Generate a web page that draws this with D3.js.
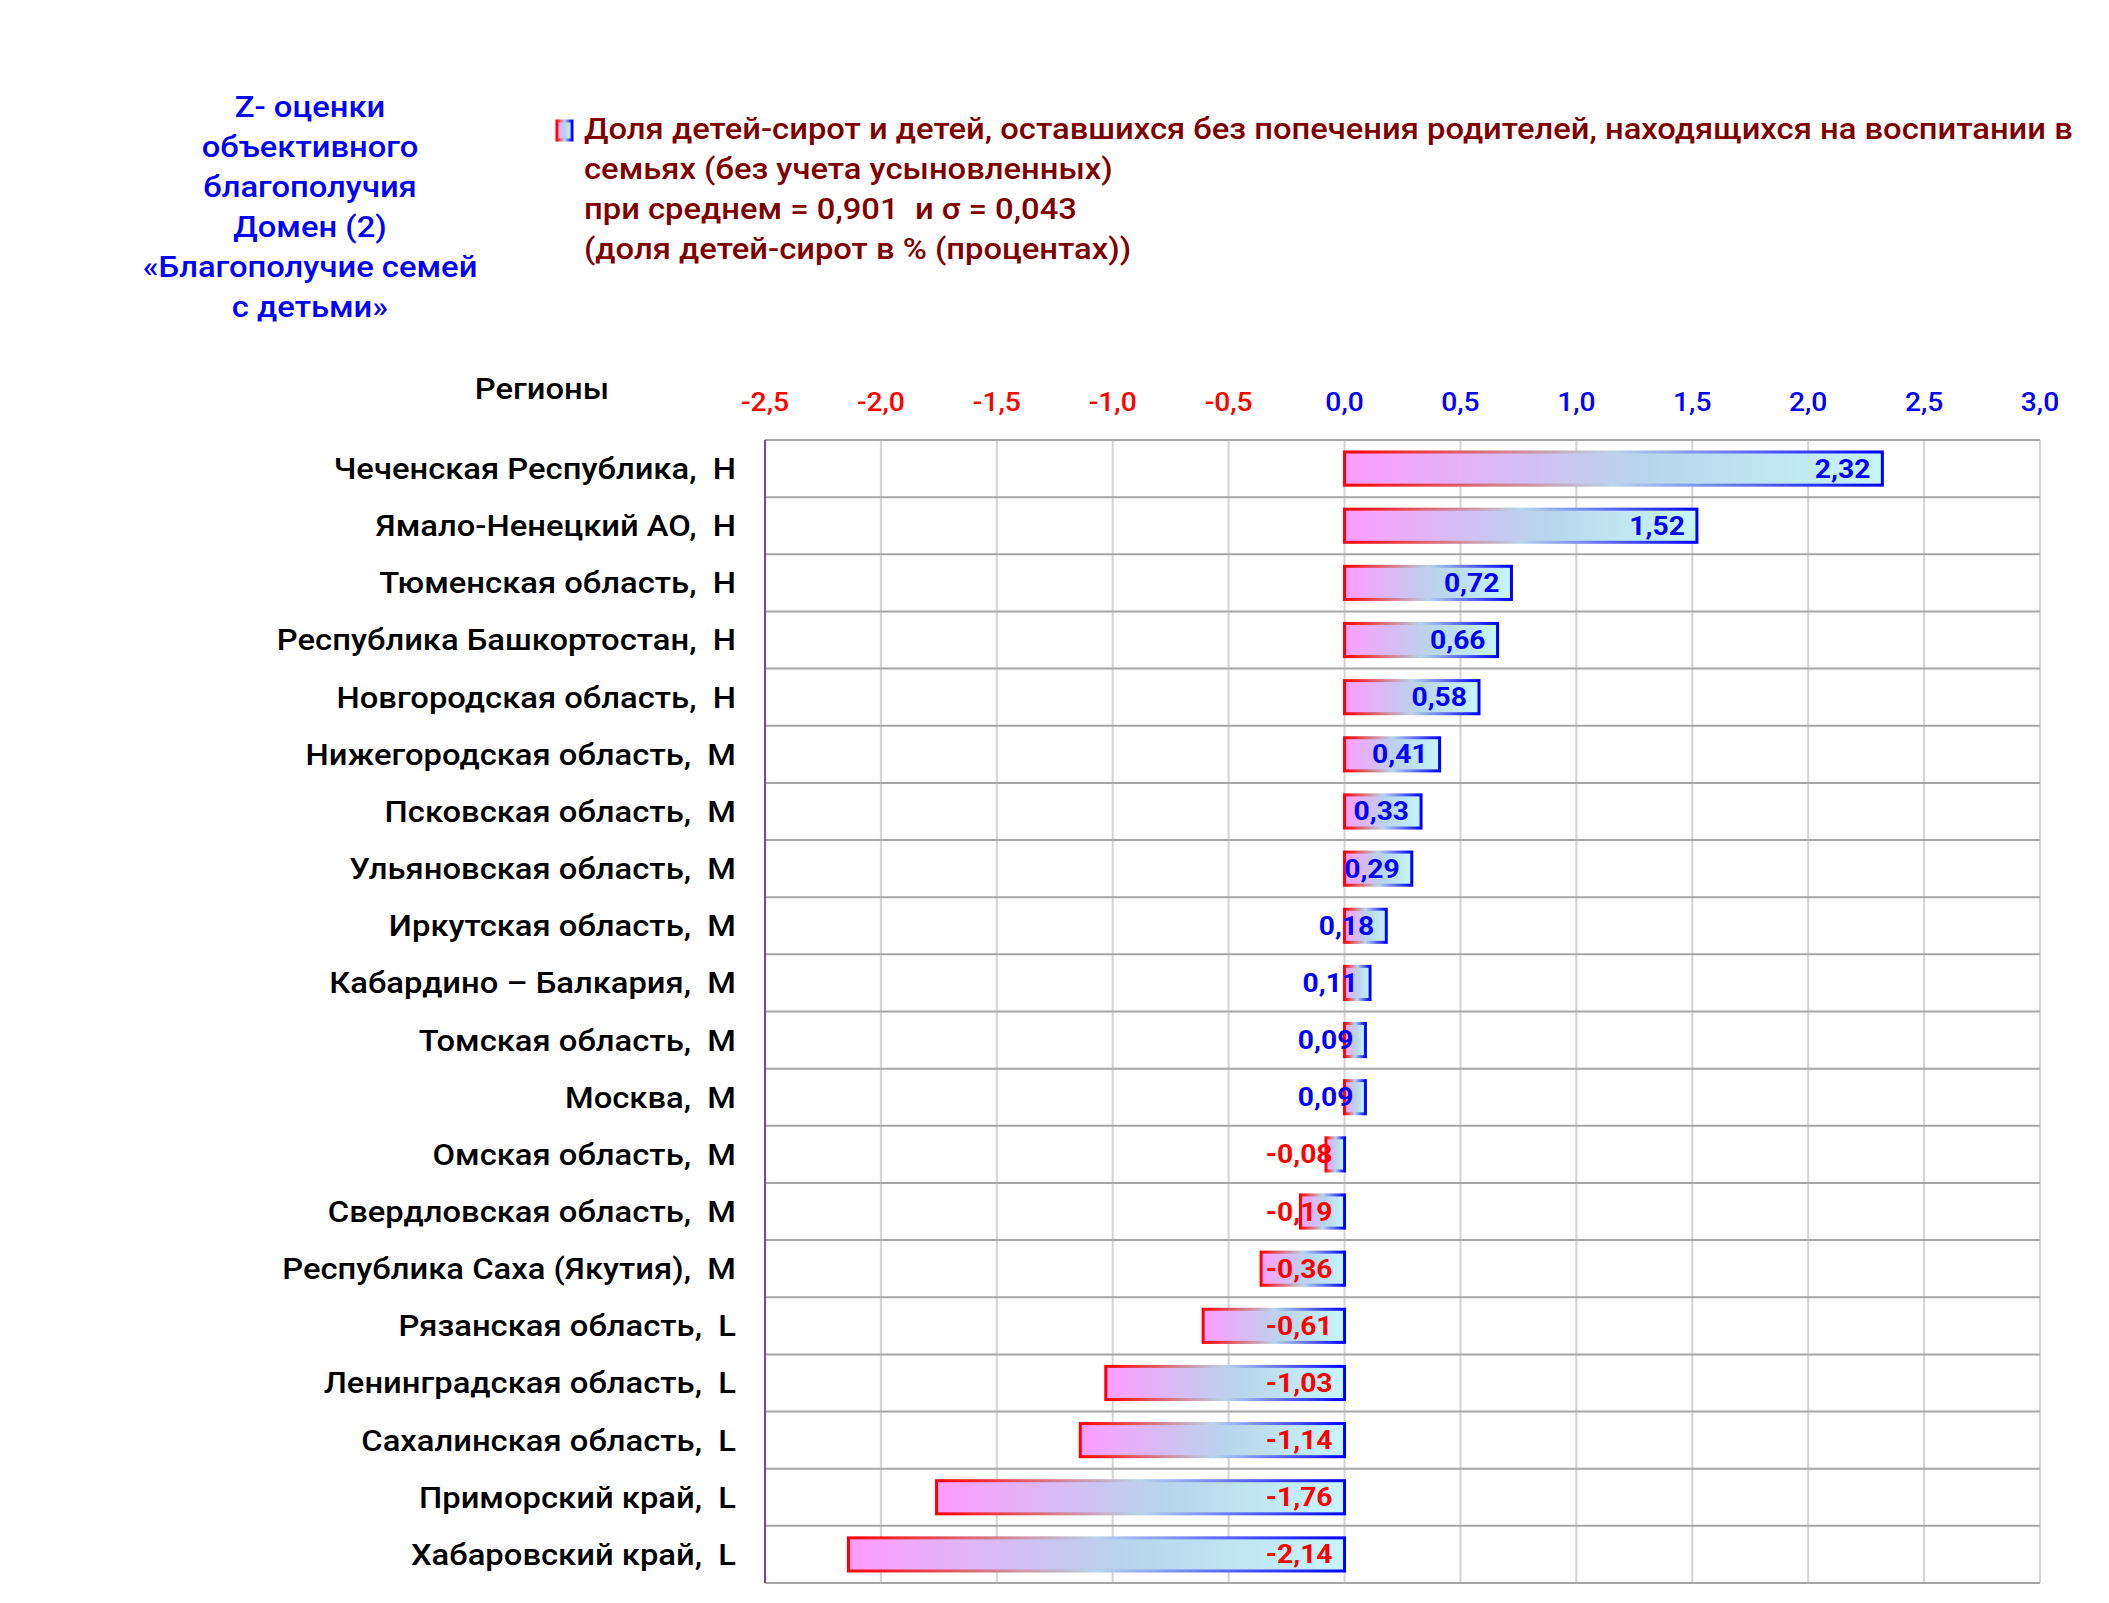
<!DOCTYPE html>
<html><head><meta charset="utf-8">
<script src="https://cdn.jsdelivr.net/npm/d3@7"></script>
<style>
html,body{margin:0;padding:0;background:#fff;}
text{white-space:pre;}
</style></head>
<body>
<svg id="chart" width="2109" height="1603"></svg>
<script>
const categories = [
  "Чеченская Республика,  Н",
  "Ямало-Ненецкий АО,  Н",
  "Тюменская область,  Н",
  "Республика Башкортостан,  Н",
  "Новгородская область,  Н",
  "Нижегородская область,  М",
  "Псковская область,  М",
  "Ульяновская область,  М",
  "Иркутская область,  М",
  "Кабардино – Балкария,  М",
  "Томская область,  М",
  "Москва,  М",
  "Омская область,  М",
  "Свердловская область,  М",
  "Республика Саха (Якутия),  М",
  "Рязанская область,  L",
  "Ленинградская область,  L",
  "Сахалинская область,  L",
  "Приморский край,  L",
  "Хабаровский край,  L"
];
const values = [2.32, 1.52, 0.72, 0.66, 0.58, 0.41, 0.33, 0.29, 0.18, 0.11, 0.09, 0.09, -0.08, -0.19, -0.36, -0.61, -1.03, -1.14, -1.76, -2.14];
const tickValues = [-2.5, -2.0, -1.5, -1.0, -0.5, 0.0, 0.5, 1.0, 1.5, 2.0, 2.5, 3.0];
const titleLines = ["Z- оценки", "объективного", "благополучия", "Домен (2)", "«Благополучие семей", "с детьми»"];
const legendLines = [
  "Доля детей-сирот и детей, оставшихся без попечения родителей, находящихся на воспитании в",
  "семьях (без учета усыновленных)",
  "при среднем = 0,901  и σ = 0,043",
  "(доля детей-сирот в % (процентах))"
];
const axisTitle = "Регионы";

const FONT = "Roboto, 'Liberation Sans', Arial, sans-serif";
const SX = 1.13; // horizontal stretch of the lettering
const svg = d3.select("#chart");
const fmt = v => v.toFixed(2).replace(".", ",");
const fmtTick = v => v.toFixed(1).replace(".", ",");
const place = (px, py) => `translate(${px},${py}) scale(${SX},1)`;

const x = d3.scaleLinear().domain([-2.5, 3.0]).range([765, 2040]);
const y = d3.scaleBand().domain(categories).range([440, 1583]).padding(0);

// gradients
const defs = svg.append("defs");
const fillG = defs.append("linearGradient").attr("id", "barFill").attr("x1", "0%").attr("x2", "100%").attr("y1", "0%").attr("y2", "0%");
fillG.append("stop").attr("offset", "0%").attr("stop-color", "#ff9cff");
fillG.append("stop").attr("offset", "55%").attr("stop-color", "#b8d4ec");
fillG.append("stop").attr("offset", "100%").attr("stop-color", "#c6f6f8");
const strokeG = defs.append("linearGradient").attr("id", "barStroke").attr("x1", "0%").attr("x2", "100%").attr("y1", "0%").attr("y2", "0%");
strokeG.append("stop").attr("offset", "0%").attr("stop-color", "#ff0000");
strokeG.append("stop").attr("offset", "50%").attr("stop-color", "#b8d4ec");
strokeG.append("stop").attr("offset", "100%").attr("stop-color", "#0000ff");

// vertical gridlines
svg.append("g").selectAll("line").data(tickValues.slice(1)).join("line")
  .attr("x1", d => x(d)).attr("x2", d => x(d))
  .attr("y1", y.range()[0]).attr("y2", y.range()[1])
  .attr("stroke", "#d4d4d4").attr("stroke-width", 2);

// horizontal separators
const seps = categories.map(c => y(c)).concat([y.range()[1]]);
svg.append("g").selectAll("line").data(seps).join("line")
  .attr("x1", x.range()[0]).attr("x2", x.range()[1])
  .attr("y1", d => d).attr("y2", d => d)
  .attr("stroke", "#a6a6a6").attr("stroke-width", 2);

// left axis line
svg.append("line").attr("x1", x.range()[0]).attr("x2", x.range()[0])
  .attr("y1", y.range()[0]).attr("y2", y.range()[1])
  .attr("stroke", "#7a40b0").attr("stroke-width", 2);

// top tick labels
svg.append("g").selectAll("text").data(tickValues).join("text")
  .attr("transform", d => place(x(d), 411))
  .attr("text-anchor", "middle")
  .attr("font-family", FONT).attr("font-size", 25).attr("font-weight", 500)
  .attr("fill", d => d < 0 ? "#ff0000" : "#0000ff")
  .text(d => fmtTick(d));

// bars
const bh = y.bandwidth() * 0.58;
svg.append("g").selectAll("rect").data(values).join("rect")
  .attr("x", d => x(Math.min(0, d)))
  .attr("width", d => Math.abs(x(d) - x(0)))
  .attr("y", (d, i) => y(categories[i]) + (y.bandwidth() - bh) / 2)
  .attr("height", bh)
  .attr("fill", "url(#barFill)")
  .attr("stroke", "url(#barStroke)")
  .attr("stroke-width", 3);

// value labels
svg.append("g").selectAll("text").data(values).join("text")
  .attr("transform", (d, i) => place(Math.max(x(d), x(0)) - 12, y(categories[i]) + y.bandwidth() / 2))
  .attr("dy", "0.36em")
  .attr("text-anchor", "end")
  .attr("font-family", FONT).attr("font-size", 25).attr("font-weight", 700)
  .attr("fill", d => d < 0 ? "#ff0000" : "#0000ff")
  .text(d => fmt(d));

// category labels
svg.append("g").selectAll("text").data(categories).join("text")
  .attr("transform", d => place(736, y(d) + y.bandwidth() / 2))
  .attr("dy", "0.36em")
  .attr("text-anchor", "end")
  .attr("font-family", FONT).attr("font-size", 29).attr("font-weight", 500)
  .attr("fill", "#000")
  .text(d => d);

// axis title
svg.append("text").attr("transform", place(542, 399)).attr("text-anchor", "middle")
  .attr("font-family", FONT).attr("font-size", 29).attr("font-weight", 500)
  .attr("fill", "#000").text(axisTitle);

// left title
svg.append("g").selectAll("text").data(titleLines).join("text")
  .attr("transform", (d, i) => place(310, 117 + i * 40))
  .attr("text-anchor", "middle")
  .attr("font-family", FONT).attr("font-size", 29).attr("font-weight", 500)
  .attr("fill", "#0000ff").text(d => d);

// legend
svg.append("rect").attr("x", 557).attr("y", 121).attr("width", 15).attr("height", 19)
  .attr("fill", "url(#barFill)").attr("stroke", "url(#barStroke)").attr("stroke-width", 3);
svg.append("g").selectAll("text").data(legendLines).join("text")
  .attr("transform", (d, i) => place(584, 139 + i * 40))
  .attr("font-family", FONT).attr("font-size", 29).attr("font-weight", 500)
  .attr("fill", "#800000").text(d => d);
</script>
</body></html>
